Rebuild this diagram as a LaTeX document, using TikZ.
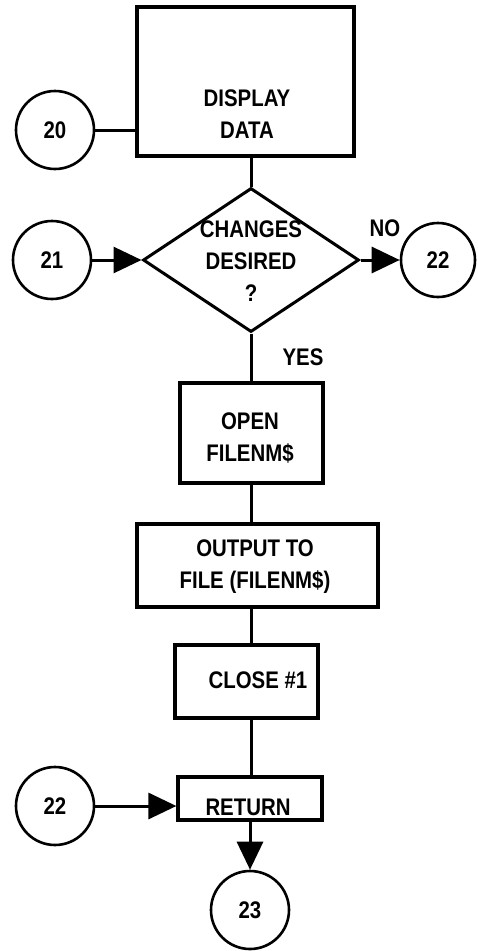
\documentclass[tikz,border=0pt]{standalone}
\usepackage{fontspec}
\setmainfont{Liberation Sans}[FakeStretch=0.85]
\usetikzlibrary{arrows.meta,shapes.geometric}
\begin{document}
\begin{tikzpicture}[x=1pt,y=-1pt,
  font=\fontsize{24}{32}\selectfont\bfseries,
  box/.style={draw,line width=3.2pt,inner sep=0pt},
  conn/.style={draw,circle,line width=2.6pt,minimum size=78pt,inner sep=0pt},
  link/.style={line width=3pt},
  arr/.style={line width=3pt,-{Triangle[length=28pt,width=26pt]}},
  lbl/.style={align=center,inner sep=0pt}]
\fill[white] (0,0) rectangle (477,951);
\useasboundingbox (0,0) rectangle (477,951);

% boxes
\node[box,minimum width=217pt,minimum height=149pt] (disp) at (245.5,81.5) {};
\node[lbl] (dispt) at (247,114) {DISPLAY\\DATA};
\node[draw,diamond,line width=3pt,minimum width=216pt,minimum height=144pt,inner sep=0pt] (dia) at (251,260) {};
\node[lbl] (diat) at (251,261) {CHANGES\\DESIRED\\?};
\node[box,minimum width=143pt,minimum height=100pt] (open) at (251.5,433) {};
\node[lbl] (opent) at (250,438) {OPEN\\FILENM\$};
\node[box,minimum width=241pt,minimum height=83pt] (out) at (257.5,565.5) {};
\node[lbl] (outt) at (255,567) {OUTPUT TO\\FILE (FILENM\$)};
\node[box,minimum width=143pt,minimum height=73pt] (close) at (246.5,681.5) {};
\node[lbl] (closet) at (258,680) {CLOSE \#1};
\node[box,minimum width=144pt,minimum height=43pt] (ret) at (250,798.5) {};
\node[lbl] (rett) at (248,807) {RETURN};

% connectors (circles)
\node[conn] (c20) at (55,130) {20};
\node[conn] (c21) at (52,260) {21};
\node[conn,minimum size=74pt] (c22a) at (438,260) {22};
\node[conn] (c22b) at (55,806) {22};
\node[conn] (c23) at (250,910) {23};

% labels
\node[lbl] (no) at (385,228) {NO};
\node[lbl] (yes) at (303,357) {YES};

% lines
\draw[link] (c20.east) -- (c20.east -| disp.west);
\draw[link] (disp.south -| dia.north) -- (dia.north);
\draw[arr] (c21.east) -- (dia.west);
\draw[arr] (dia.east) -- (c22a.west);
\draw[link] (dia.south) -- (dia.south |- open.north);
\draw[link] (open.south -| dia.south) -- (out.north -| dia.south);
\draw[link] (out.south -| dia.south) -- (close.north -| dia.south);
\draw[link] (close.south -| dia.south) -- (ret.north -| dia.south);
\draw[arr] (c22b.east) -- (c22b.east -| ret.west);
\draw[arr] (ret.south -| c23.north) -- (c23.north);
\end{tikzpicture}
\end{document}
